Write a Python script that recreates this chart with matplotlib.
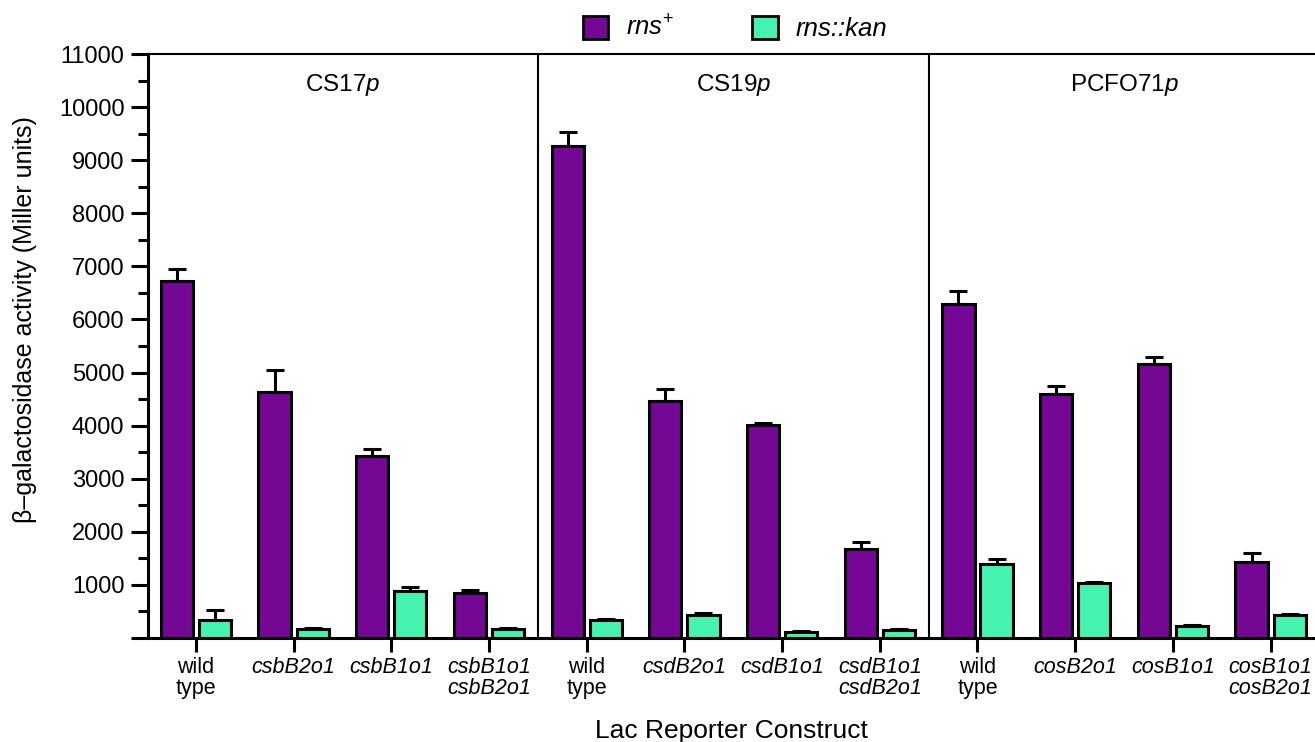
import matplotlib
matplotlib.use("Agg")
import matplotlib.pyplot as plt
import numpy as np
from matplotlib.ticker import MultipleLocator, FixedLocator

plt.rcParams['font.family'] = ['Liberation Sans', 'DejaVu Sans']
plt.rcParams['mathtext.fontset'] = 'custom'
plt.rcParams['mathtext.rm'] = 'Liberation Sans'
plt.rcParams['mathtext.it'] = 'Liberation Sans:italic'

# ---- data ----
categories = ['wild\ntype', 'csbB2o1', 'csbB1o1', 'csbB1o1\ncsbB2o1',
              'wild\ntype', 'csdB2o1', 'csdB1o1', 'csdB1o1\ncsdB2o1',
              'wild\ntype', 'cosB2o1', 'cosB1o1', 'cosB1o1\ncosB2o1']
rns_plus = [6730, 4640, 3420, 840, 9270, 4460, 4010, 1680, 6300, 4590, 5170, 1430]
rns_plus_err = [220, 410, 140, 65, 265, 225, 40, 130, 245, 160, 125, 175]
rns_kan = [340, 175, 885, 170, 340, 440, 120, 145, 1390, 1030, 220, 433]
rns_kan_err = [185, 20, 80, 18, 18, 25, 17, 18, 100, 30, 19, 25]
panels = ['CS17', 'CS19', 'PCFO71']
series_names = ['$rns^{\\mathrm{+}}$', 'rns::kan']
colors = ['#740794', '#45F2B0']

fig = plt.figure(figsize=(13.15, 7.42), dpi=100)
ax = fig.add_axes([148/1315, 1-638/742, 1-148/1315, (638-54)/742])

x = np.arange(len(categories))
w = 0.33
off = 0.195
lw = 2.2
b1 = ax.bar(x - off, rns_plus, w, color=colors[0], edgecolor='black', linewidth=lw, zorder=3, label=series_names[0])
b2 = ax.bar(x + off, rns_kan, w, color=colors[1], edgecolor='black', linewidth=lw, zorder=3, label=series_names[1])
ax.errorbar(x - off, rns_plus, yerr=[np.zeros(len(x)), rns_plus_err], fmt='none',
            ecolor='black', elinewidth=lw, capsize=6.5, capthick=lw, zorder=2)
ax.errorbar(x + off, rns_kan, yerr=[np.zeros(len(x)), rns_kan_err], fmt='none',
            ecolor='black', elinewidth=lw, capsize=6.5, capthick=lw, zorder=2)

ax.set_xlim(-0.49, -0.49 + 1167/97.7)
ax.set_ylim(0, 11000)

# dividers
for d in [3.5, 7.5]:
    ax.axvline(d, color='black', lw=1.5, zorder=4)

# panel titles
for i, p in enumerate(panels):
    cx = i * 4 + 1.5
    ax.text(cx, 10420, p + '$p$', ha='center', va='center', fontsize=17.5)

# spines
for s in ['left', 'bottom']:
    ax.spines[s].set_linewidth(lw)
ax.spines['top'].set_linewidth(1.5)
ax.spines['right'].set_visible(False)

# y ticks
ax.yaxis.set_major_locator(FixedLocator(np.arange(0, 11001, 1000)))
ax.yaxis.set_minor_locator(MultipleLocator(500))
ax.set_yticklabels([''] + [str(v) for v in range(1000, 11001, 1000)])
ax.tick_params(axis='y', which='major', length=12, width=lw, labelsize=17, pad=5)
ax.tick_params(axis='y', which='minor', length=7, width=lw)

# x ticks
ax.set_xticks(x)
ax.set_xticklabels(categories, fontsize=15.5, linespacing=1.0)
for lab, c in zip(ax.get_xticklabels(), categories):
    if not c.startswith('wild'):
        lab.set_fontstyle('italic')
ax.tick_params(axis='x', length=10, width=lw, pad=4)

ax.set_ylabel('β–galactosidase activity (Miller units)', fontsize=18)
ax.yaxis.set_label_coords(-0.095, 0.545)
ax.set_xlabel('Lac Reporter Construct', fontsize=19, labelpad=14)

leg = fig.legend(handles=[b1, b2], loc='center', bbox_to_anchor=(0.559, 0.962), ncol=2,
                 frameon=False, fontsize=18.5, handlelength=1.0, handleheight=1.0,
                 columnspacing=3.0, handletextpad=0.7)
leg.get_texts()[1].set_fontstyle('italic')
for h in leg.legend_handles:
    h.set_linewidth(2)

fig.savefig('out.png', dpi=100)
